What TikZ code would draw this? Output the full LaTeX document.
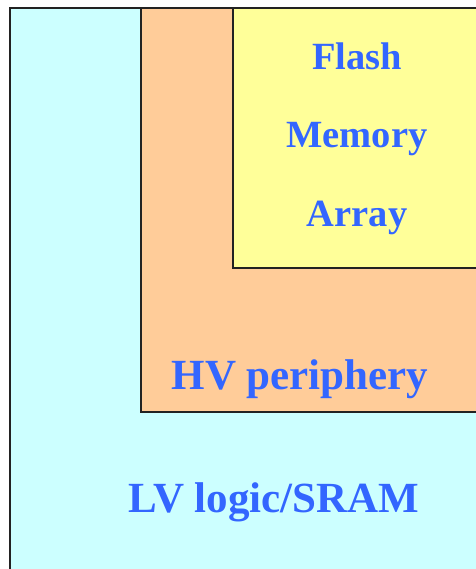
\documentclass[tikz,border=0pt]{standalone}
\usepackage{fontspec}
\setmainfont{Liberation Serif}
\definecolor{lvfill}{HTML}{CCFFFF}
\definecolor{hvfill}{HTML}{FFCC99}
\definecolor{flfill}{HTML}{FFFF99}
\definecolor{labelblue}{HTML}{3366FF}
\definecolor{edge}{HTML}{222222}
\tikzset{
  region/.style={draw=edge, line width=1.4pt},
  label/.style={text=labelblue, anchor=base, inner sep=0pt},
  biglabel/.style={label, font=\bfseries\fontsize{43}{46}\selectfont},
  arraylabel/.style={label, font=\bfseries\fontsize{38.5}{42}\selectfont}
}
\begin{document}
\begin{tikzpicture}[x=1pt,y=-1pt]
  \useasboundingbox (0,0) rectangle (475,569);
  % nested blocks: LV logic, HV periphery, flash array
  \path[region, fill=lvfill] (10,8) rectangle (480,575);
  \path[region, fill=hvfill] (141,8) rectangle (480,412);
  \path[region, fill=flfill] (233,8) rectangle (480,268);
  \draw[edge, line width=2.5pt] (233,8) -- (480,8);
  \node[arraylabel] (flash) at (357,70) {Flash};
  \node[arraylabel] (memory) at (357,148) {Memory};
  \node[arraylabel] (array) at (357,226) {Array};
  \node[biglabel] (hv) at (300,389) {HV periphery};
  \node[biglabel] (lv) at (274,512) {LV logic/SRAM};
\end{tikzpicture}
\end{document}
